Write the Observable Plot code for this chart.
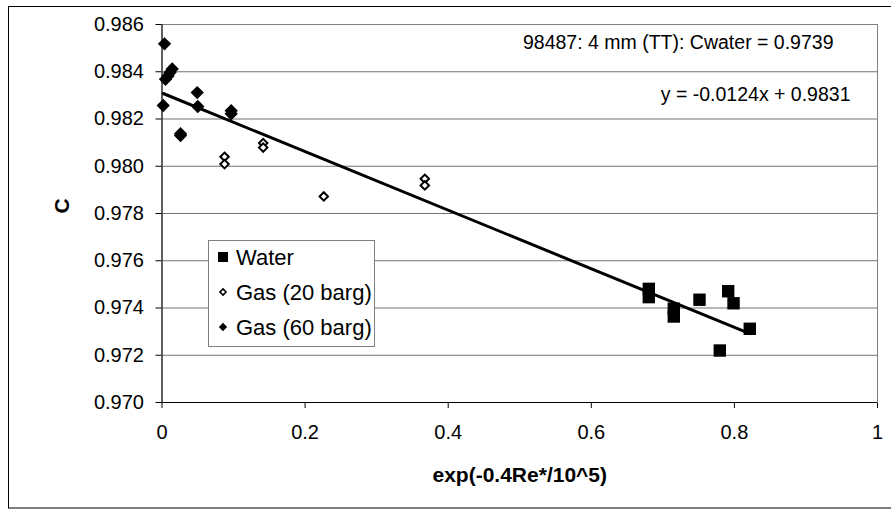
<!DOCTYPE html>
<html>
<head>
<meta charset="utf-8">
<script src="https://cdn.jsdelivr.net/npm/d3@7"></script>
<script src="https://cdn.jsdelivr.net/npm/@observablehq/plot@0.6"></script>
<style>
  html, body { margin: 0; padding: 0; background: white; }
  svg { display: block; }
</style>
</head>
<body>
<div id="chart"></div>
<script>
// ---- data ----
const waterX = [0.6804, 0.6804, 0.7153, 0.7153, 0.7512, 0.7913, 0.7988, 0.8215, 0.7796];
const waterY = [0.97481, 0.97446, 0.97397, 0.97364, 0.97435, 0.97471, 0.97420, 0.97312, 0.97220];

const gas20X = [0.0874, 0.0874, 0.1414, 0.1414, 0.2261, 0.3673, 0.3673];
const gas20Y = [0.98040, 0.98009, 0.98098, 0.98079, 0.97872, 0.97947, 0.97919];

const gas60X = [0.0035, 0.0049, 0.0084, 0.0112, 0.0143, 0.0017, 0.0259, 0.0259, 0.0492, 0.0500, 0.0967, 0.0967];
const gas60Y = [0.98518, 0.98368, 0.98382, 0.98397, 0.98412, 0.98257, 0.98138, 0.98130, 0.98312, 0.98253, 0.98235, 0.98222];

const trendSlope = -0.0124;
const trendIntercept = 0.9831;

const xTicks = [0, 0.2, 0.4, 0.6, 0.8, 1];
const yTicks = [0.970, 0.972, 0.974, 0.976, 0.978, 0.980, 0.982, 0.984, 0.986];

const seriesNames = ["Water", "Gas (20 barg)", "Gas (60 barg)"];
const xTitle = "exp(-0.4Re*/10^5)";
const yTitle = "C";
const annotations = ["98487: 4 mm (TT): Cwater = 0.9739", "y = -0.0124x + 0.9831"];

// ---- build tables ----
const toPts = (xs, ys) => xs.map((x, i) => ({x, y: ys[i]}));
const water = toPts(waterX, waterY);
const gas20 = toPts(gas20X, gas20Y);
const gas60 = toPts(gas60X, gas60Y);
const allX = [...waterX, ...gas20X, ...gas60X];
const trend = [d3.min(allX), d3.max(allX)].map(x => ({x, y: trendIntercept + trendSlope * x}));

const FONT = "'Liberation Sans', Arial, sans-serif";

const plot = Plot.plot({
  width: 891,
  height: 510,
  marginLeft: 161.5,
  marginRight: 14,
  marginTop: 24,
  marginBottom: 108,
  style: {fontFamily: FONT, fontSize: "20px", background: "white", color: "black", overflow: "visible"},
  x: {domain: [0, 1], ticks: xTicks, tickSize: 6, tickPadding: 16, tickFormat: d => String(+d.toFixed(1)), label: null},
  y: {domain: [0.970, 0.986], ticks: yTicks, tickSize: 6, tickPadding: 12, tickFormat: d3.format(".3f"), label: null},
  marks: [
    Plot.ruleY(yTicks.slice(1), {stroke: "#737373", strokeWidth: 1}),
    Plot.frame({stroke: "#808080"}),
    Plot.ruleX([0], {stroke: "black"}),
    Plot.ruleY([0.970], {stroke: "black"}),
    Plot.dot(water, {x: "x", y: "y", symbol: "square", r: 7, fill: "black", stroke: "none"}),
    Plot.dot(gas20, {x: "x", y: "y", symbol: d3.symbolDiamond2, r: 3.8, fill: "white", stroke: "black", strokeWidth: 2}),
    Plot.dot(gas60, {x: "x", y: "y", symbol: d3.symbolDiamond2, r: 6, fill: "black", stroke: "none"}),
    Plot.line(trend, {x: "x", y: "y", stroke: "black", strokeWidth: 3}),
    Plot.text([annotations[0]], {frameAnchor: "top-right", dx: -44, dy: 18, textAnchor: "end", lineAnchor: "middle", fontSize: 19.5, fill: "black"}),
    Plot.text([annotations[1]], {frameAnchor: "top-right", dx: -27, dy: 70, textAnchor: "end", lineAnchor: "middle", fontSize: 19.5, fill: "black"}),
    Plot.text([xTitle], {frameAnchor: "bottom", dy: 73, lineAnchor: "middle", fontWeight: "bold", fontSize: 21, fill: "black"}),
    Plot.text([yTitle], {frameAnchor: "left", dx: -100, rotate: -90, lineAnchor: "middle", fontWeight: "bold", fontSize: 21, fill: "black"})
  ]
});

// ---- legend & outer border (layout) ----
const svg = d3.select(plot);
svg.append("rect")
  .attr("x", 8.5).attr("y", 6.5).attr("width", 900).attr("height", 501.5)
  .attr("fill", "none").attr("stroke", "black").attr("stroke-width", 1);

const lg = svg.append("g")
  .attr("font-family", FONT).attr("font-size", 22).attr("text-anchor", "start");
lg.append("rect")
  .attr("x", 208.5).attr("y", 240.5).attr("width", 166).attr("height", 106)
  .attr("fill", "white").attr("stroke", "#808080").attr("stroke-width", 1);
const legendSyms = [
  {sym: d3.symbolSquare, size: 100, fill: "black", stroke: "none", sw: 0},
  {sym: d3.symbolDiamond2, size: 24, fill: "white", stroke: "black", sw: 1.6},
  {sym: d3.symbolDiamond2, size: 44, fill: "black", stroke: "none", sw: 0}
];
seriesNames.forEach((name, i) => {
  const cy = 257 + i * 35;
  const s = legendSyms[i];
  lg.append("path")
    .attr("d", d3.symbol(s.sym, s.size)())
    .attr("transform", `translate(223,${cy})`)
    .attr("fill", s.fill).attr("stroke", s.stroke).attr("stroke-width", s.sw);
  lg.append("text")
    .attr("x", 236).attr("y", cy).attr("dy", "0.36em")
    .attr("text-anchor", "start")
    .attr("fill", "black")
    .text(name);
});

document.getElementById("chart").appendChild(plot);
</script>
</body>
</html>
